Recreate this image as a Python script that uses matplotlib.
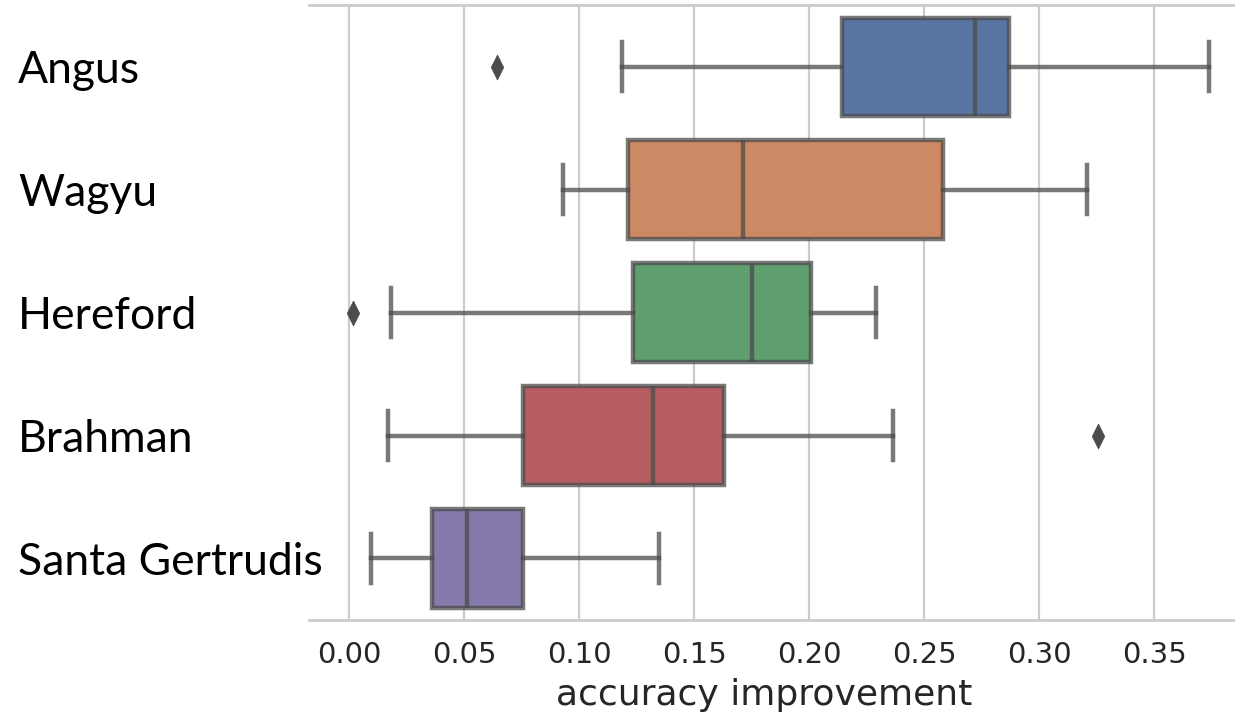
import numpy as np
import matplotlib
matplotlib.use('Agg')
import matplotlib.pyplot as plt

# box statistics (accuracy improvement per breed)
breeds = ['Angus', 'Wagyu', 'Hereford', 'Brahman', 'Santa Gertrudis']
whislo = [0.1186, 0.0929, 0.0183, 0.0168, 0.0094]
q1 = [0.2142, 0.1212, 0.1236, 0.0755, 0.0362]
med = [0.2722, 0.1714, 0.1751, 0.1320, 0.0512]
q3 = [0.2870, 0.2583, 0.2007, 0.1630, 0.0758]
whishi = [0.3740, 0.3209, 0.2291, 0.2364, 0.1348]
fliers = [[0.0642], [], [0.0016], [0.3254], []]
colors = ['#5975a4', '#cc8963', '#5f9e6e', '#b55d60', '#857aab']

xticks = [0.00, 0.05, 0.10, 0.15, 0.20, 0.25, 0.30, 0.35]

stats = []
for i in range(len(breeds)):
    stats.append(dict(label=breeds[i], whislo=whislo[i], q1=q1[i], med=med[i],
                      q3=q3[i], whishi=whishi[i], fliers=fliers[i]))

fig = plt.figure(figsize=(12.35, 7.23), dpi=100)
ax = fig.add_axes([0.2502, 0.1425, 0.7636, 0.8503])

lc = '#4c4c4c'
lw = 3.2
line = dict(color=lc, linewidth=lw, alpha=0.75)
# narrow diamond like the original flier marker
diamond = [(0, 1), (0.5, 0), (0, -1), (-0.5, 0), (0, 1)]
bp = ax.bxp(stats, positions=range(len(breeds)), widths=0.8, orientation='horizontal',
            patch_artist=True,
            boxprops=dict(edgecolor=lc, linewidth=lw),
            whiskerprops=line, capprops=line, medianprops=line,
            flierprops=dict(marker=diamond, markersize=18, markerfacecolor=lc,
                            markeredgecolor=lc, markeredgewidth=0.5, linestyle='none'),
            zorder=3)
for patch, c in zip(bp['boxes'], colors):
    patch.set_facecolor(c)
    patch.set_edgecolor((0.298, 0.298, 0.298, 0.75))

ax.set_xlim(-0.0174, 0.3925)
ax.set_ylim(4.5, -0.5)
ax.set_xticks(xticks)
ax.set_xticklabels(['%.2f' % t for t in xticks])
ax.grid(axis='x', color='#cccccc', linewidth=1.6, zorder=0)
ax.set_axisbelow(True)

ax.set_yticks(range(len(breeds)))
ax.set_yticklabels(breeds, fontfamily='Lato', fontsize=32, color='black')
for lab in ax.get_yticklabels():
    lab.set_ha('left')
    lab.set_va('center_baseline')
ax.tick_params(axis='y', length=0, pad=209.5)
ax.tick_params(axis='x', length=0, pad=15, labelsize=21, labelcolor='#262626')

ax.set_xlabel('accuracy improvement', fontsize=26, color='#262626')
ax.xaxis.set_label_coords(0.4825, -0.094)

for side in ['top', 'bottom', 'right']:
    ax.spines[side].set_color('#cccccc')
    ax.spines[side].set_linewidth(2.0)
ax.spines['left'].set_visible(False)

fig.savefig('out.png', dpi=100)
